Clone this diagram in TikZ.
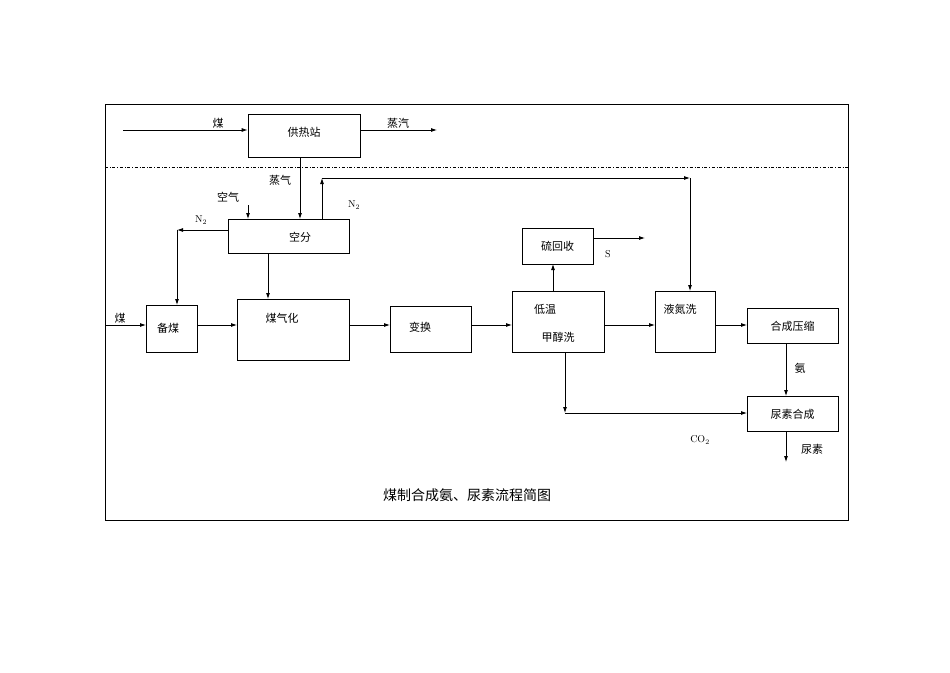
\documentclass[tikz,border=0pt]{standalone}
\usepackage{fontspec}
\newfontfamily\cjk{Noto Sans CJK SC}
\usetikzlibrary{arrows.meta}
\begin{document}
\begin{tikzpicture}[x=1pt,y=-1pt,
 box/.style={draw,thick,inner sep=0},
 lab/.style={font=\cjk\fontsize{11}{13}\selectfont,inner sep=0},
 arr/.style={-{Latex[length=6pt,width=4pt]},thick}]
\useasboundingbox (0,0) rectangle (950,672);
\draw[thick] (105,104) rectangle (848,520);
\draw[thin,dash dot] (105,167) -- (848,167);
% boxes
\node[box,minimum width=112,minimum height=43] (grz) at (304,135.5) {};
\node[lab] at (304,132) {供热站};
\node[box,minimum width=121,minimum height=34] (kf) at (288.5,236) {};
\node[lab] at (300,237) {空分};
\node[box,minimum width=51,minimum height=47] (bm) at (171.5,328.5) {};
\node[lab] at (168,328) {备煤};
\node[box,minimum width=112,minimum height=61] (mqh) at (293,329.5) {};
\node[lab] at (282,318) {煤气化};
\node[box,minimum width=81,minimum height=46] (bh) at (430.5,329) {};
\node[lab] at (420,327) {变换};
\node[box,minimum width=92,minimum height=61] (dw) at (558,321.5) {};
\node[lab] at (545,309) {低温};
\node[lab] at (558,337) {甲醇洗};
\node[box,minimum width=71,minimum height=36] (lhs) at (557.5,246) {};
\node[lab] at (557.5,246) {硫回收};
\node[box,minimum width=60,minimum height=61] (ydx) at (685,321.5) {};
\node[lab] at (680,309) {液氮洗};
\node[box,minimum width=91,minimum height=35] (hc) at (792.5,325.5) {};
\node[lab] at (792.5,326) {合成压缩};
\node[box,minimum width=91,minimum height=35] (ns) at (792.5,413.5) {};
\node[lab] at (792.5,414) {尿素合成};
% top
\coordinate (c0) at (123,130); \coordinate (c1) at (437,130);
\draw[arr] (c0) -- (grz.west |- c0);
\draw[arr] (grz.east |- c1) -- (c1);
\node[lab] at (218,123) {煤};
\node[lab] at (398,123) {蒸汽};
\draw[arr] (300,157) -- (300,219);
\node[lab] at (280,180) {蒸气};
\node[lab] at (228,197) {空气};
\draw[arr] (248,205) -- (248,219);
% N2 right
\coordinate (n1) at (322,178); \coordinate (n2) at (690,178);
\draw[arr] (322,219) -- (n1);
\draw[arr] (n1) -- (n2);
\draw[arr] (n2) -- (690,291);
\node at (354,205) {N\textsubscript{2}};
% N2 left
\coordinate (n3) at (177,230);
\draw[arr] (228,230) -- (n3);
\draw[arr] (n3) -- (177,305);
\node at (201,220) {N\textsubscript{2}};
\draw[arr] (268,253) -- (268,299);
% main line
\coordinate (m0) at (105,325);
\draw[arr] (m0) -- (146,325);
\node[lab] at (120,318) {煤};
\draw[arr] (197,325) -- (237,325);
\draw[arr] (349,325) -- (390,325);
\draw[arr] (471,325) -- (512,325);
\draw[arr] (604,325) -- (655,325);
\draw[arr] (715,325) -- (747,325);
\draw[arr] (553,291) -- (553,264);
\coordinate (s) at (645,238);
\draw[arr] (593,238) -- (s);
\node at (608,254) {S};
\draw[arr] (786,343) -- (786,396);
\node[lab] at (800,368) {氨};
\coordinate (co) at (565,413);
\draw[arr] (565,352) -- (co);
\draw[arr] (co) -- (747,413);
\node at (700,440) {CO\textsubscript{2}};
\coordinate (u) at (786,462);
\draw[arr] (786,431) -- (u);
\node[lab] at (812,449) {尿素};
\node[font=\cjk\fontsize{14}{16}\selectfont] at (467,495) {煤制合成氨、尿素流程简图};
\end{tikzpicture}
\end{document}
